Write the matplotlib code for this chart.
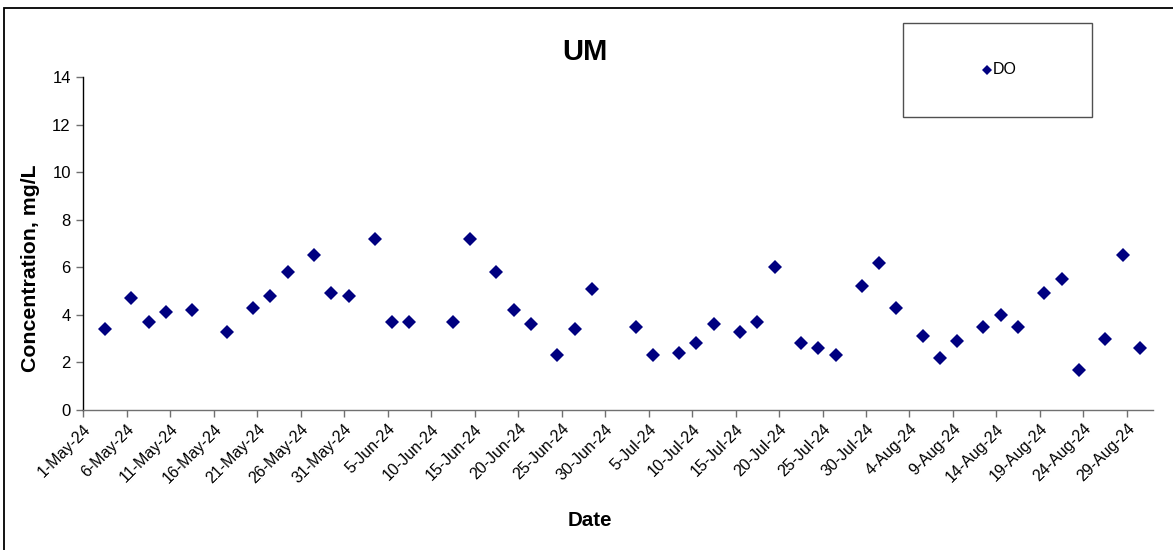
import matplotlib
matplotlib.use("Agg")
import matplotlib.pyplot as plt
from matplotlib.patches import Rectangle
import pandas as pd

plt.rcParams['font.family'] = ['Liberation Sans', 'DejaVu Sans']

# ---- data ----
sample_dates = [
    "2024-05-03", "2024-05-06", "2024-05-08", "2024-05-10", "2024-05-13",
    "2024-05-17", "2024-05-20", "2024-05-22", "2024-05-24", "2024-05-27",
    "2024-05-29", "2024-05-31", "2024-06-03", "2024-06-05", "2024-06-07",
    "2024-06-12", "2024-06-14", "2024-06-17", "2024-06-19", "2024-06-21",
    "2024-06-24", "2024-06-26", "2024-06-28", "2024-07-03", "2024-07-05",
    "2024-07-08", "2024-07-10", "2024-07-12", "2024-07-15", "2024-07-17",
    "2024-07-19", "2024-07-22", "2024-07-24", "2024-07-26", "2024-07-29",
    "2024-07-31", "2024-08-02", "2024-08-05", "2024-08-07", "2024-08-09",
    "2024-08-12", "2024-08-14", "2024-08-16", "2024-08-19", "2024-08-21",
    "2024-08-23", "2024-08-26", "2024-08-28", "2024-08-30",
]
do_values = [
    3.4, 4.7, 3.7, 4.1, 4.2,
    3.3, 4.3, 4.8, 5.8, 6.5,
    4.9, 4.8, 7.2, 3.7, 3.7,
    3.7, 7.2, 5.8, 4.2, 3.6,
    2.3, 3.4, 5.1, 3.5, 2.3,
    2.4, 2.8, 3.6, 3.3, 3.7,
    6.0, 2.8, 2.6, 2.3, 5.2,
    6.2, 4.3, 3.1, 2.2, 2.9,
    3.5, 4.0, 3.5, 4.9, 5.5,
    1.7, 3.0, 6.5, 2.6,
]
tick_dates = pd.date_range("2024-05-01", "2024-08-29", freq="5D")
tick_labels = [f"{d.day}-{d.strftime('%b-%y')}" for d in tick_dates]
y_ticks = [0, 2, 4, 6, 8, 10, 12, 14]
series_name = "DO"
title = "UM"

W, H = 1173, 550
fig = plt.figure(figsize=(W / 100, H / 100), dpi=100)
fig.patch.set_facecolor("white")

# outer chart border
fig.patches.append(Rectangle((4 / W, -0.05), 1.2, (H - 8) / H + 0.05,
                             transform=fig.transFigure, fill=False,
                             edgecolor="black", linewidth=1.3))

ax = fig.add_axes([83.3 / W, (H - 410) / H, (1153 - 83.3) / W, (410 - 77) / H])

x = pd.to_datetime(sample_dates) + pd.Timedelta(hours=12)
ax.plot(x, do_values, linestyle="none", marker="D", markersize=7.2,
        color="#000080", markeredgewidth=0, label=series_name, clip_on=False)

ax.set_ylim(0, 14)
ax.set_yticks(y_ticks)
ax.set_xlim(pd.Timestamp("2024-05-01"), pd.Timestamp("2024-09-01"))
ax.set_xticks(tick_dates)
ax.set_xticklabels(tick_labels, rotation=45, ha="right", rotation_mode="anchor")

for s in ["top", "right"]:
    ax.spines[s].set_visible(False)
ax.spines["left"].set_color("black")
ax.spines["bottom"].set_color("#707070")
ax.spines["left"].set_linewidth(1.0)
ax.spines["bottom"].set_linewidth(1.0)
ax.tick_params(axis="y", direction="out", length=5, width=1, color="#707070",
               labelsize=12, pad=4)
ax.tick_params(axis="x", direction="out", length=5, width=1, color="#707070",
               labelsize=11.5, pad=3)

fig.text(585 / W, 1 - 52 / H, title, ha="center", va="center",
         fontsize=21, fontweight="bold")
fig.text(590 / W, 1 - 521 / H, "Date", ha="center", va="center",
         fontsize=14.8, fontweight="bold")
fig.text(31 / W, 1 - 268 / H, "Concentration, mg/L", ha="center", va="center",
         rotation=90, fontsize=15.3, fontweight="bold")

# legend box
fig.patches.append(Rectangle((903 / W, 1 - 117 / H), (1092 - 903) / W, (117 - 23) / H,
                             transform=fig.transFigure, fill=False,
                             edgecolor="#505050", linewidth=1.0))
fig.lines.append(plt.Line2D([987 / W], [1 - 70 / H], transform=fig.transFigure,
                            marker="D", markersize=5.5, color="#000080",
                            markeredgewidth=0, linestyle="none"))
fig.text(993 / W, 1 - 70 / H, series_name, ha="left", va="center", fontsize=11.5)

fig.savefig("out.png", dpi=100)
